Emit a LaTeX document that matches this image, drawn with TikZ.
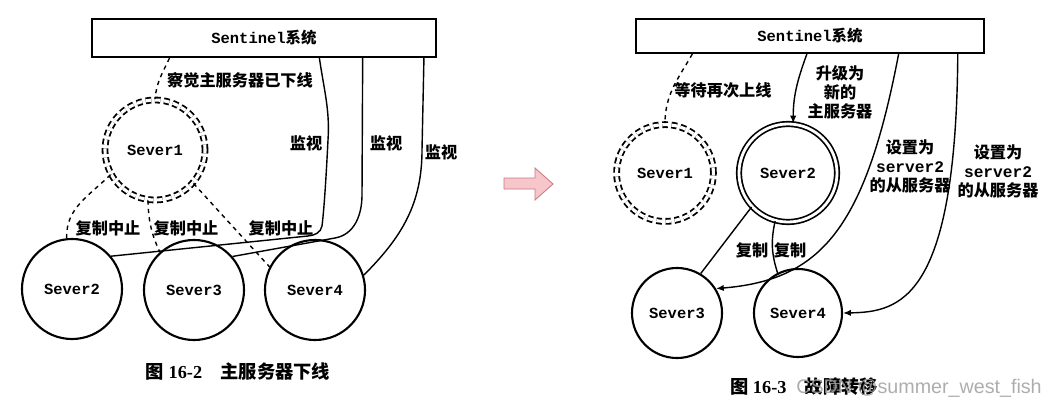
\documentclass[tikz,border=0pt]{standalone}
\usepackage{fontspec}
\setmainfont{Liberation Serif}
\setmonofont{Liberation Mono}
\setsansfont{Liberation Sans}
\newfontfamily\cjk{Noto Sans CJK SC}
\usetikzlibrary{arrows.meta,calc}
\definecolor{arrowfill}{HTML}{F7C6CB}
\definecolor{arrowline}{HTML}{C87882}
\newcommand{\mt}[1]{{\ttfamily\bfseries #1}}
\newcommand{\zh}[1]{{\cjk\bfseries #1}}
\tikzset{
  srv/.style={draw,circle,line width=1.5pt,minimum size=2.5cm,inner sep=0pt,
    font=\ttfamily\bfseries\fontsize{11}{12}\selectfont},
  offline/.style={srv,dash pattern=on 4pt off 2.5pt,double,double distance=2.2pt,line width=1.3pt},
  master/.style={srv,double,double distance=2pt,line width=1.2pt},
  sys/.style={draw,line width=1.5pt,inner sep=0pt,
    font=\ttfamily\bfseries\fontsize{11}{12}\selectfont},
  lbl/.style={font=\cjk\bfseries\fontsize{11.5}{13.5}\selectfont,align=center,inner sep=1pt},
  link/.style={line width=1pt},
  arr/.style={link,-{Latex[length=5.5pt,width=4.5pt]}},
  caption/.style={font=\bfseries\fontsize{13}{15}\selectfont}
}
\begin{document}
\begin{tikzpicture}[x=0.025cm,y=-0.025cm]
\useasboundingbox (0,0) rectangle (1057,407);
% figure 16-2
\node[sys,minimum width=8.6cm,minimum height=0.95cm] (sentA) at (264,38) {Sentinel\zh{系统}};
\node[offline] (s1a) at (155,150) {Sever1};
\node[srv] (s2a) at (72,289) {Sever2};
\node[srv] (s3a) at (194,290) {Sever3};
\node[srv] (s4a) at (315,290) {Sever4};
\coordinate (pA1) at ($(sentA.south west)!0.227!(sentA.south east)$);
\coordinate (pA2) at ($(sentA.south west)!0.66!(sentA.south east)$);
\coordinate (pA3) at ($(sentA.south west)!0.785!(sentA.south east)$);
\coordinate (pA4) at ($(sentA.south west)!0.962!(sentA.south east)$);
\draw[link,dashed] (pA1) to[out=-115,in=85] (s1a.north);
\draw[link,dashed] (s1a.209) to[out=225,in=92] (s2a.96);
\draw[link,dashed] (s1a.262) to[out=-88,in=115] (s3a.132);
\draw[link,dashed] (s1a.319) -- (s4a.153);
\draw[link] (pA2) .. controls (324,90) and (330,110) .. (328,140)
  .. controls (326,180) and (324,210) .. (322,226)
  to[out=-100,in=5] (308,236) -- (s2a.40);
\draw[link] (pA3) -- (362,195) to[out=-90,in=10] (335,238) -- (s3a.41);
\draw[link] (pA4) -- (422,150) to[out=-90,in=45] (s4a.17);
\node[lbl] (t1) at (240,80) {察觉主服务器已下线};
\node[lbl] (t2) at (108,228) {复制中止};
\node[lbl] (t3) at (186,228) {复制中止};
\node[lbl] (t4) at (281,228) {复制中止};
\node[lbl] (t5) at (306,143) {监视};
\node[lbl] (t6) at (386,143) {监视};
\node[lbl] (t7) at (441,152) {监视};
\node[caption] (capA) at (238,372) {\zh{图} 16-2\quad\zh{主服务器下线}};
% arrow between the figures
\draw[arrowline,fill=arrowfill,line width=0.6pt] (504,178) -- (535,178) -- (535,168)
  -- (553,184) -- (535,200) -- (535,189) -- (504,189) -- cycle;
% figure 16-3
\node[sys,minimum width=8.7cm,minimum height=0.85cm] (sentB) at (810,36) {Sentinel\zh{系统}};
\node[offline,minimum size=2.42cm] (s1b) at (665,173) {Sever1};
\node[master,minimum size=2.45cm] (s2b) at (788,173) {Sever2};
\node[srv,minimum size=2.25cm] (s3b) at (677,313) {Sever3};
\node[srv,minimum size=2.2cm] (s4b) at (798,313) {Sever4};
\coordinate (pB1) at ($(sentB.south west)!0.164!(sentB.south east)$);
\coordinate (pB2) at ($(sentB.south west)!0.491!(sentB.south east)$);
\coordinate (pB3) at ($(sentB.south west)!0.753!(sentB.south east)$);
\coordinate (pB4) at ($(sentB.south west)!0.922!(sentB.south east)$);
\draw[link,dashed] (pB1) to[out=-120,in=90] (s1b.north);
\draw[arr] (pB2) to[out=-110,in=90] (s2b.84);
\draw[arr] (pB3) .. controls (865,230) and (820,280) .. (s3b.32);
\draw[arr] (pB4) .. controls (956,300) and (900,312) .. (s4b.east);
\draw[link] (s2b.223) -- (s3b.59);
\draw[link] (s2b.255) to[bend right=15] (s4b.117);
\node[lbl] (u1) at (723,90) {等待再次上线};
\node[lbl] (u2) at (840,92) {升级为\\新的\\主服务器};
\node[lbl] (u3) at (910,166) {设置为\\\mt{server2}\\的从服务器};
\node[lbl] (u4) at (998,171) {设置为\\\mt{server2}\\的从服务器};
\node[lbl] (u5) at (752,250) {复制};
\node[lbl] (u6) at (790,250) {复制};
\node[caption] (capB) at (804,387) {\zh{图} 16-3\quad\zh{故障转移}};
\node[anchor=east,font=\sffamily\fontsize{14}{16}\selectfont,text=gray!75,opacity=0.85,inner sep=0pt]
  (mark) at (1042,388) {CSDN @summer\_west\_fish};
\end{tikzpicture}
\end{document}
